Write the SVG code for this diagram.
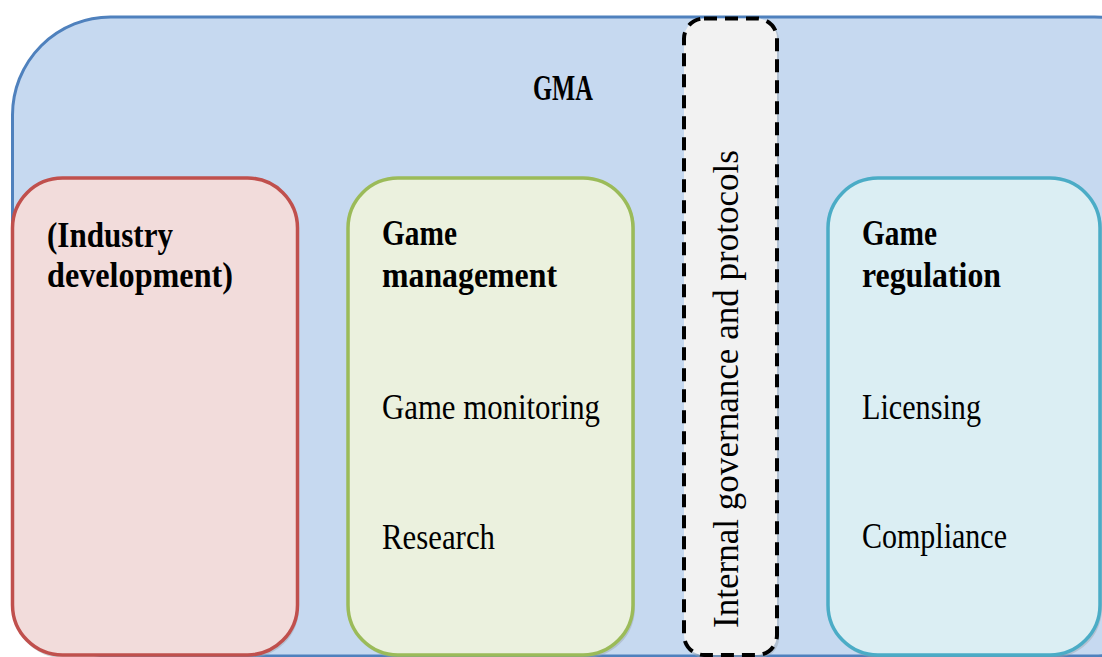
<svg xmlns="http://www.w3.org/2000/svg" width="1102" height="657" viewBox="0 0 1102 657">
<defs>
<style>
.t{font-family:"Liberation Serif","Times New Roman",serif;font-size:35px;fill:#000}
.b{font-weight:bold}
.sh{fill:#9aa3ad;opacity:0.45}
</style>
</defs>
<rect width="1102" height="657" fill="#ffffff"/>
<g id="gma">
<rect x="12.5" y="17" width="1180" height="639" rx="98" ry="98" fill="#c6d9f0" stroke="#4f81bd" stroke-width="3"/>
<text class="t b" x="533" y="100" textLength="60" lengthAdjust="spacingAndGlyphs">GMA</text>
</g>
<g id="industry">
<rect class="sh" x="13" y="180" width="286" height="478" rx="50"/>
<rect x="12.5" y="178" width="285" height="477" rx="50" fill="#f2dcdb" stroke="#c0504d" stroke-width="3.5"/>
<text class="t b" x="47" y="247" textLength="126" lengthAdjust="spacingAndGlyphs">(Industry</text>
<text class="t b" x="47" y="287" textLength="186" lengthAdjust="spacingAndGlyphs">development)</text>
</g>
<g id="management">
<rect class="sh" x="349" y="180" width="286" height="478" rx="50"/>
<rect x="348" y="178" width="285" height="477" rx="50" fill="#ebf1de" stroke="#9bbb59" stroke-width="3.5"/>
<text class="t b" x="382" y="245" textLength="75" lengthAdjust="spacingAndGlyphs">Game</text>
<text class="t b" x="382" y="287" textLength="175" lengthAdjust="spacingAndGlyphs">management</text>
<text class="t" x="382" y="419" textLength="218" lengthAdjust="spacingAndGlyphs">Game monitoring</text>
<text class="t" x="382" y="549" textLength="113" lengthAdjust="spacingAndGlyphs">Research</text>
</g>
<g id="governance">
<rect class="sh" x="685" y="20" width="94" height="638" rx="20"/>
<rect x="684" y="18.5" width="93" height="636.5" rx="20" fill="#f2f2f2" stroke="#000000" stroke-width="4" stroke-dasharray="13 8"/>
<text class="t" transform="translate(738,389) rotate(-90)" text-anchor="middle" textLength="478" lengthAdjust="spacingAndGlyphs">Internal governance and protocols</text>
</g>
<g id="regulation">
<rect class="sh" x="829" y="180" width="273" height="478" rx="50"/>
<rect x="828" y="178" width="272" height="477" rx="50" fill="#dbeef3" stroke="#4bacc6" stroke-width="3.5"/>
<text class="t b" x="862" y="245" textLength="75" lengthAdjust="spacingAndGlyphs">Game</text>
<text class="t b" x="862" y="287" textLength="139" lengthAdjust="spacingAndGlyphs">regulation</text>
<text class="t" x="862" y="419" textLength="119" lengthAdjust="spacingAndGlyphs">Licensing</text>
<text class="t" x="862" y="548" textLength="145" lengthAdjust="spacingAndGlyphs">Compliance</text>
</g>
<g id="connectors"></g>
</svg>
